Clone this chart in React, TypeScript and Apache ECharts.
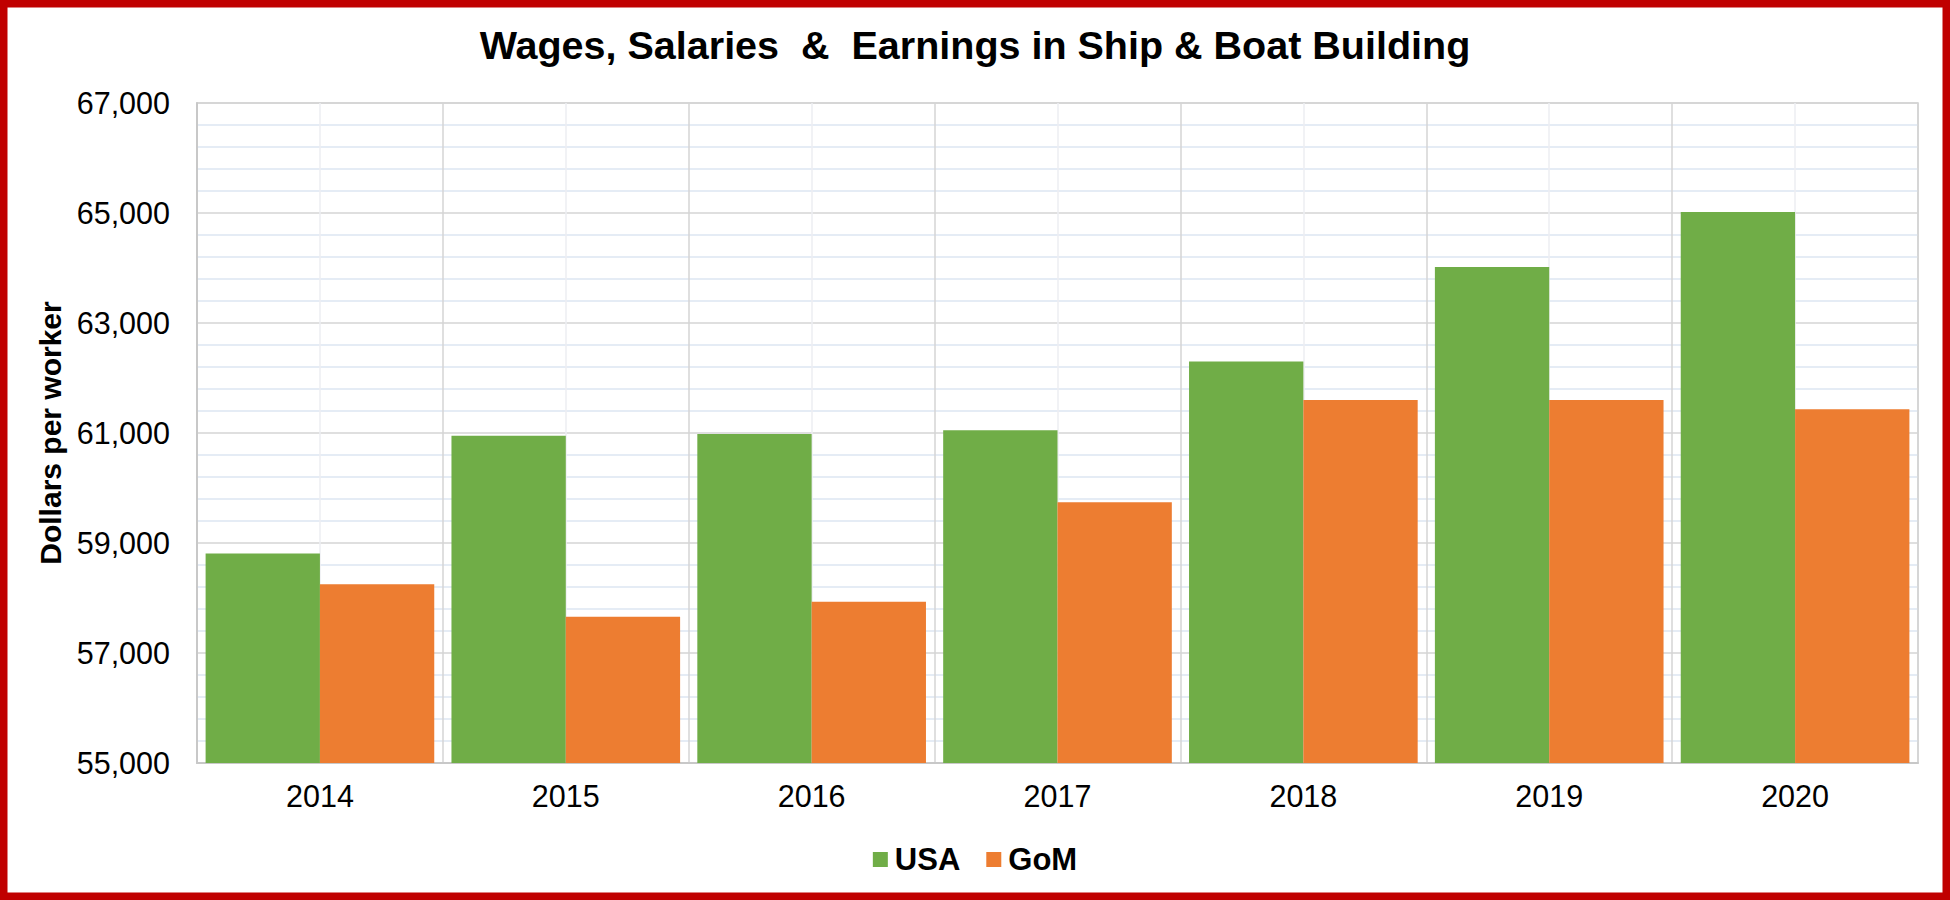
import React, { useEffect, useRef } from "react";
import * as echarts from "echarts";

const years = ["2014", "2015", "2016", "2017", "2018", "2019", "2020"];
const usaValues = [58810, 60950, 60980, 61050, 62300, 64020, 65020];
const gomValues = [58250, 57660, 57930, 59740, 61600, 61600, 61430];
const seriesNames = ["USA", "GoM"];
const yMin = 55000;
const yMax = 67000;
const yStep = 2000;

const FONT = "'Liberation Sans', Arial, sans-serif";

export default function App() {
  const ref = useRef<HTMLDivElement>(null);
  useEffect(() => {
    document.body.style.margin = "0";
    if (!ref.current) return;
    const chart = echarts.init(ref.current, null, { renderer: "svg" });
    chart.setOption({
      animation: false,
      backgroundColor: "#ffffff",
      textStyle: { fontFamily: FONT },
      title: {
        text: "Wages, Salaries  &  Earnings in Ship & Boat Building",
        left: "center",
        top: 20,
        textStyle: { fontFamily: FONT, fontSize: 39.5, fontWeight: "bold", color: "#000" },
      },
      legend: {
        data: seriesNames,
        left: "center",
        top: 839,
        icon: "rect",
        itemWidth: 15,
        itemHeight: 15,
        itemGap: 26,
        textStyle: { fontFamily: FONT, fontSize: 31, fontWeight: "bold", color: "#000", padding: [0, 0, 0, 2] },
      },
      grid: {
        left: 197,
        top: 103,
        right: 32,
        bottom: 137,
        show: true,
        borderColor: "#d0d0d0",
        borderWidth: 1.5,
      },
      xAxis: [
        {
          type: "category",
          data: years,
          axisLine: { show: true, lineStyle: { color: "#c8c8c8", width: 2 } },
          axisTick: { show: false },
          splitLine: { show: false },
          axisLabel: { fontFamily: FONT, fontSize: 30.5, color: "#000", margin: 17 },
        },
        {
          type: "value",
          position: "top",
          min: 0,
          max: years.length,
          interval: 1,
          axisLine: { show: false },
          axisTick: { show: false },
          axisLabel: { show: false },
          splitLine: { show: true, lineStyle: { color: "#d4d4d4", width: 1.5 } },
          minorTick: { show: false, splitNumber: 2 },
          minorSplitLine: { show: true, lineStyle: { color: "#eceef2", width: 1.5 } },
        },
      ],
      yAxis: {
        type: "value",
        min: yMin,
        max: yMax,
        interval: yStep,
        name: "Dollars per worker",
        nameLocation: "middle",
        nameGap: 129,
        nameTextStyle: { fontFamily: FONT, fontSize: 30, fontWeight: "bold", color: "#000" },
        axisLine: { show: true, lineStyle: { color: "#c8c8c8", width: 2 } },
        axisTick: { show: false },
        axisLabel: {
          fontFamily: FONT,
          fontSize: 30.5,
          color: "#000",
          margin: 27,
          formatter: (v: number) => v.toLocaleString("en-US"),
        },
        splitLine: { show: true, lineStyle: { color: "#d4d4d4", width: 1.5 } },
        minorTick: { show: false, splitNumber: 5 },
        minorSplitLine: { show: true, lineStyle: { color: "#dce6f2", width: 1.5 } },
      },
      series: [
        {
          name: seriesNames[0],
          type: "bar",
          data: usaValues,
          xAxisIndex: 0,
          barGap: "0%",
          barCategoryGap: "7%",
          itemStyle: { color: "#70AD47" },
        },
        {
          name: seriesNames[1],
          type: "bar",
          data: gomValues,
          xAxisIndex: 0,
          barGap: "0%",
          barCategoryGap: "7%",
          itemStyle: { color: "#ED7D31" },
        },
      ],
      graphic: [
        {
          type: "rect",
          shape: { x: 3.75, y: 3.75, width: 1942.5, height: 892.5 },
          style: { fill: "none", stroke: "#C00000", lineWidth: 7.5 },
          z: 100,
        },
      ],
    });
    return () => chart.dispose();
  }, []);
  return <div ref={ref} style={{ width: 1950, height: 900 }} />;
}
